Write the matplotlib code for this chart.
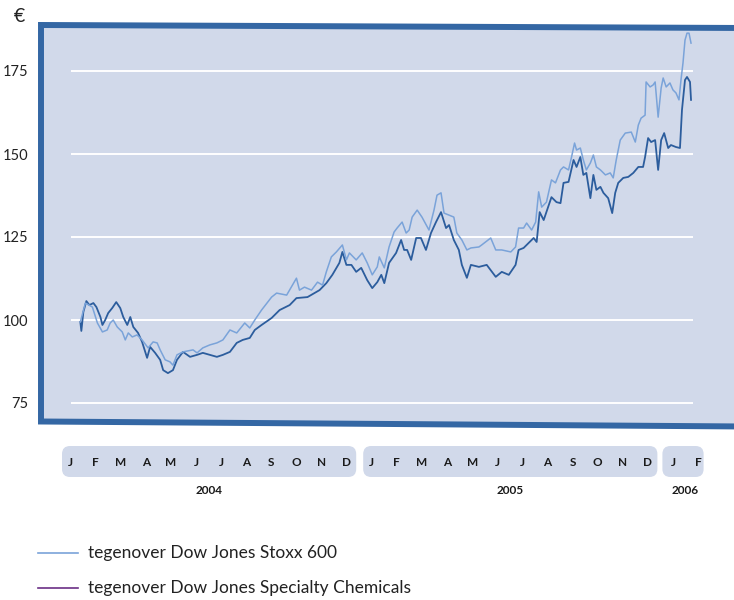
import matplotlib.pyplot as plt
from matplotlib.patches import Polygon, FancyBboxPatch
from matplotlib.transforms import blended_transform_factory

# months since 1 Jan 2004, index values
stoxx_t = [0.89, 1.09, 1.37, 1.57, 1.77, 1.96, 2.08, 2.20, 2.36, 2.56, 2.68, 2.80, 2.96, 3.15, 3.35,
           3.59, 3.79, 3.95, 4.07, 4.27, 4.46, 4.58, 4.74, 4.98, 5.38, 5.54, 5.77, 6.05, 6.33, 6.57,
           6.85, 7.12, 7.44, 7.64, 7.84, 8.11, 8.51, 8.71, 9.11, 9.50, 9.62, 9.82, 10.10, 10.34, 10.54,
           10.69, 10.89, 11.09, 11.33, 11.49, 11.61, 11.88, 12.12, 12.32, 12.52, 12.72, 12.80, 13.00,
           13.19, 13.39, 13.51, 13.71, 13.87, 13.99, 14.11, 14.31, 14.50, 14.78, 14.98, 15.10, 15.26,
           15.38, 15.58, 15.77, 15.89, 16.09, 16.29, 16.45, 16.77, 16.88, 17.24, 17.44, 17.68, 18.04,
           18.23, 18.35, 18.55, 18.67, 18.87, 19.03, 19.15, 19.27, 19.46, 19.66, 19.82, 20.02, 20.14,
           20.34, 20.46, 20.58, 20.66, 20.81, 20.93, 21.05, 21.21, 21.33, 21.45, 21.61, 21.81, 22.00,
           22.12, 22.24, 22.40, 22.60, 22.84, 23.00, 23.12, 23.23, 23.39, 23.43, 23.59, 23.71, 23.79,
           23.91, 24.03, 24.11, 24.23, 24.38, 24.50, 24.62, 24.74, 24.82, 24.90, 24.98, 25.06, 25.14, 25.22]
stoxx_v = [99.4, 105.1, 103.9, 99.1, 96.4, 97.0, 99.1, 100.0, 97.9, 96.4, 94.0, 96.1, 94.9, 95.5, 94.0,
           91.6, 93.4, 93.1, 91.0, 88.0, 87.4, 86.4, 89.5, 90.4, 91.0, 90.1, 91.6, 92.5, 93.1, 94.0,
           97.0, 96.1, 99.1, 97.6, 100.0, 103.0, 106.9, 108.1, 107.5, 112.6, 109.0, 109.9, 109.0, 111.4, 110.5,
           114.5, 119.0, 120.5, 122.6, 118.1, 120.2, 118.1, 120.2, 117.2, 113.6, 116.0, 119.0, 115.7,
           122.0, 126.5, 127.7, 129.5, 126.2, 127.1, 131.0, 133.1, 131.0, 127.1, 133.1, 137.6, 138.3,
           132.2, 131.6, 131.0, 126.2, 124.1, 121.1, 121.7, 122.0, 122.6, 124.7, 121.1, 121.1, 120.5,
           122.0, 127.7, 127.7, 129.2, 127.1, 129.5, 138.6, 134.0, 135.5, 142.2, 141.3, 145.2, 146.1,
           145.2, 149.1, 153.3, 151.2, 151.8, 148.2, 145.2, 147.3, 149.7, 146.1, 145.2, 143.7, 144.3,
           142.8, 148.2, 154.2, 156.3, 156.6, 153.6, 158.7, 160.8, 161.7, 171.7, 170.2, 170.8, 171.7,
           161.1, 169.9, 172.9, 170.2, 171.4, 169.3, 168.4, 166.3, 172.3, 177.4, 184.3, 186.4, 186.4, 183.4]

chem_t = [0.89, 0.93, 1.01, 1.13, 1.25, 1.41, 1.53, 1.69, 1.77, 1.88, 2.00, 2.16, 2.32, 2.48, 2.60,
          2.76, 2.88, 3.00, 3.19, 3.35, 3.55, 3.67, 3.87, 4.07, 4.19, 4.38, 4.58, 4.74, 4.98, 5.26,
          5.54, 5.77, 6.05, 6.33, 6.57, 6.85, 7.12, 7.36, 7.64, 7.84, 8.11, 8.51, 8.83, 9.23, 9.50,
          9.94, 10.42, 10.69, 10.93, 11.21, 11.33, 11.49, 11.69, 11.88, 12.08, 12.32, 12.52, 12.72,
          12.88, 13.00, 13.19, 13.47, 13.67, 13.79, 13.91, 14.07, 14.27, 14.46, 14.66, 14.86, 15.06,
          15.26, 15.46, 15.58, 15.77, 15.97, 16.09, 16.29, 16.45, 16.77, 17.08, 17.44, 17.68, 17.96,
          18.23, 18.35, 18.55, 18.75, 18.95, 19.07, 19.19, 19.35, 19.66, 19.86, 20.02, 20.14, 20.34,
          20.54, 20.66, 20.81, 20.93, 21.05, 21.21, 21.33, 21.45, 21.61, 21.73, 21.92, 22.08, 22.20,
          22.32, 22.52, 22.72, 22.92, 23.12, 23.31, 23.39, 23.51, 23.63, 23.79, 23.91, 24.03, 24.15,
          24.31, 24.42, 24.62, 24.78, 24.86, 24.98, 25.06, 25.18, 25.22]
chem_v = [99.4, 96.7, 102.4, 105.7, 104.5, 105.1, 103.9, 100.9, 98.5, 100.0, 102.1, 103.6, 105.4, 103.6, 100.9,
          98.5, 100.9, 97.9, 96.1, 93.4, 88.6, 91.9, 90.1, 88.0, 84.9, 84.0, 84.9, 88.0, 90.4, 88.9,
          89.5, 90.1, 89.5, 88.9, 89.5, 90.4, 93.1, 94.0, 94.6, 97.0, 98.5, 100.6, 103.0, 104.5, 106.6,
          106.9, 109.0, 111.1, 113.6, 117.2, 120.5, 116.6, 116.6, 114.5, 115.7, 112.0, 109.6, 111.4,
          113.6, 111.1, 117.2, 120.2, 124.1, 121.1, 121.1, 118.1, 124.7, 124.7, 121.1, 126.2, 129.5,
          132.5, 127.7, 128.6, 124.1, 121.1, 116.6, 112.7, 116.6, 116.0, 116.6, 113.0, 114.5, 113.6,
          116.6, 121.1, 121.7, 123.2, 124.7, 123.5, 132.5, 130.1, 137.0, 135.5, 135.2, 141.3, 141.6,
          148.2, 146.1, 149.1, 143.7, 144.3, 136.7, 143.7, 139.2, 140.1, 138.3, 136.7, 132.2, 138.3,
          141.3, 142.8, 143.1, 144.3, 146.1, 146.1, 149.1, 154.8, 153.6, 154.2, 145.2, 154.2, 156.3,
          151.8, 152.7, 152.1, 151.8, 163.3, 172.3, 173.2, 171.7, 166.3]

yticks = [75, 100, 125, 150, 175]
months = ['J', 'F', 'M', 'A', 'M', 'J', 'J', 'A', 'S', 'O', 'N', 'D']
years = ['2004', '2005', '2006']
year_months = [12, 12, 2]
legend_labels = ['tegenover Dow Jones Stoxx 600', 'tegenover Dow Jones Specialty Chemicals']

light = '#7aa3d9'
dark = '#2c5d9d'
panel = '#d1d9ea'
border = '#3467a4'
font = ['Lato', 'DejaVu Sans']

W, H = 734, 600
fig = plt.figure(figsize=(W / 100, H / 100), dpi=100)

# background axes in pixel coordinates
bg = fig.add_axes([0, 0, 1, 1])
bg.set_xlim(0, W)
bg.set_ylim(H, 0)
bg.axis('off')
bg.add_patch(Polygon([(41, 25), (745, 28), (745, 426.5), (41, 421.5)], closed=True,
                     facecolor=panel, edgecolor=border, linewidth=4.3, joinstyle='miter'))

# data axes
ax = fig.add_axes([38 / W, 1 - 430 / H, (W - 38) / W, 410 / H])
ax.patch.set_alpha(0)
ax.set_xlim((38 - 58) / 25.1, (W - 58) / 25.1)
ax.set_ylim(100 - 110 * 25 / 83, 100 + 300 * 25 / 83)
for s in ax.spines.values():
    s.set_visible(False)
ax.hlines(yticks, 0.52, 25.3, colors='white', linewidth=1.4, zorder=1)
ax.plot(stoxx_t, stoxx_v, color=light, linewidth=1.1, zorder=3)
ax.plot(chem_t, chem_v, color=dark, linewidth=1.3, zorder=2)
ax.set_xticks([])
ax.set_yticks(yticks)
ax.set_yticklabels([str(v) for v in yticks], family=font, fontsize=10.5, color='#222222')
ax.tick_params(axis='y', length=0, pad=7)
bg.text(19, 16, '€', ha='center', va='center', fontsize=14, family=font, color='#222222')

# month band
trans = blended_transform_factory(ax.transData, bg.transData)
start = 0
for yr, n in zip(years, year_months):
    x0 = 58 + 25.1 * start + 4
    x1 = 58 + 25.1 * (start + n) - 3
    if n == 2:
        x0 -= 2
        x1 -= 4
    bg.add_patch(FancyBboxPatch((x0 + 8, 454), x1 - x0 - 16, 15,
                                boxstyle='round,pad=8', facecolor=panel, edgecolor='none'))
    for i in range(n):
        ax.text(start + i + 0.5, 463, months[i], transform=trans, ha='center', va='center',
                fontsize=8.5, fontweight='bold', family=font, color='#1a1a1a')
    ax.text(start + n / 2, 491, yr, transform=trans, ha='center', va='center',
            fontsize=8.5, fontweight='bold', family=font, color='#1a1a1a')
    start += n

# legend
for yy, col, lab in zip([553, 588], [light, '#6b2f85'], legend_labels):
    bg.plot([38, 78], [yy, yy], color=col, linewidth=1.2)
    bg.text(88, yy, lab, ha='left', va='center', fontsize=12.5, family=font, color='#222222')

plt.savefig('out.png', dpi=100)
